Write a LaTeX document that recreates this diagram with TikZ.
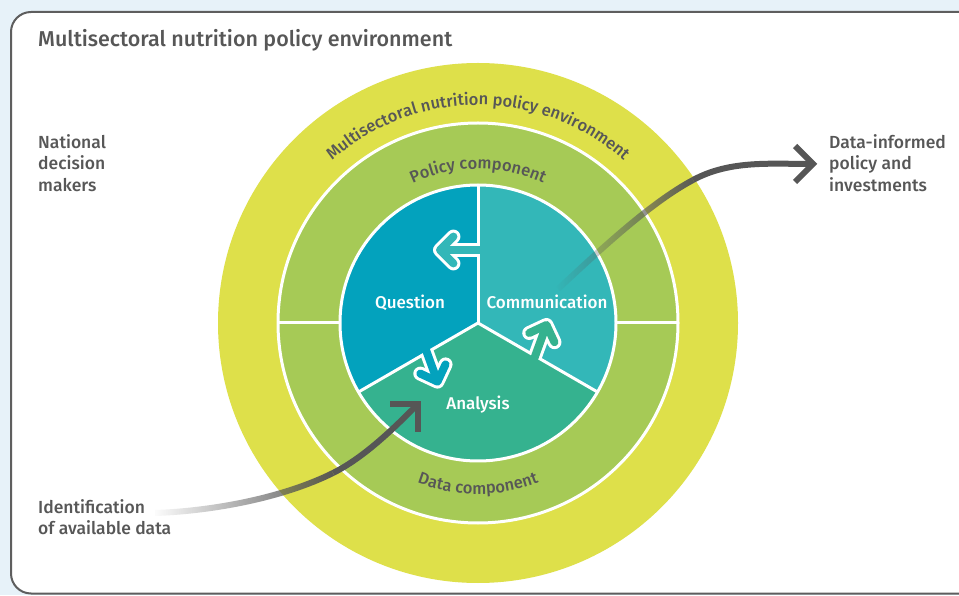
\documentclass[tikz,border=0pt]{standalone}
\usepackage{fontspec}
\setmainfont{Fira Sans}[UprightFont={* Medium}]
\usetikzlibrary{decorations.text,fadings}

\definecolor{bgblue}{HTML}{E7F2F9}
\definecolor{boxline}{HTML}{5E5E5E}
\definecolor{envyellow}{HTML}{DEE04A}
\definecolor{ringgreen}{HTML}{A6CA56}
\definecolor{qcol}{HTML}{03A2BD}
\definecolor{ccol}{HTML}{33B7B8}
\definecolor{acol}{HTML}{35B28F}
\definecolor{txt}{HTML}{575757}
\definecolor{flowgray}{HTML}{565656}

\newcommand\ringfont{\fontsize{16.5}{20}\selectfont\color{txt}}

% fades a stroke in from the left (transparent) to the right (opaque)
\tikzfading[name=fadein, left color=transparent!100, right color=transparent!0]

\begin{document}
\begin{tikzpicture}[x=1pt,y=1pt,
  lbl/.style={align=left, text=txt, inner sep=0, font=\fontsize{17.5}{21.5}\selectfont},
  pielbl/.style={text=white, inner sep=0, font=\fontsize{17}{20}\selectfont},
  sep/.style={white, line width=3},
  flowout/.style={white, line width=14},
  flowin/.style={line width=8},
  bigflow/.style={flowgray, line width=6},
  ringtext/.style={decorate, decoration={text along path, text align=center, text={#1}}}
]
\useasboundingbox (0,0) rectangle (959,595);
\fill[bgblue] (0,0) rectangle (959,595);

% framed panel
\begin{scope}
  \clip (0,0) rectangle (959,595);
  \draw[boxline, line width=2, fill=white, rounded corners=20] (11,1.5) rectangle (985,583);
\end{scope}
\node[anchor=base west, text=txt, inner sep=0, font=\fontsize{21.5}{26}\selectfont] (title) at (38,548)
  {Multisectoral nutrition policy environment};

% rings
\coordinate (c) at (478,272);
\fill[envyellow] (c) circle[radius=260];
\fill[ringgreen] (c) circle[radius=200];
\draw[sep] (c) circle[radius=200];
\draw[sep] ([shift={(180:138)}]c) -- ([shift={(180:200)}]c);
\draw[sep] ([shift={(0:138)}]c) -- ([shift={(0:200)}]c);

% three sectors of the cycle
\fill[qcol] (c) -- ++(90:138) arc[start angle=90, end angle=210, radius=138] -- cycle;
\fill[acol] (c) -- ++(210:138) arc[start angle=210, end angle=330, radius=138] -- cycle;
\fill[ccol] (c) -- ++(330:138) arc[start angle=330, end angle=450, radius=138] -- cycle;
\draw[sep] (c) -- ++(90:138);
\draw[sep] (c) -- ++(210:138);
\draw[sep] (c) -- ++(330:138);
\draw[sep] (c) circle[radius=138];

% curved ring labels
\path[ringtext={|\ringfont|Multisectoral nutrition policy environment}]
  ([shift={(170:218)}]c) arc[start angle=170, end angle=10, radius=218];
\path[ringtext={|\ringfont|Policy component}]
  ([shift={(160:154)}]c) arc[start angle=160, end angle=20, radius=154];
\path[ringtext={|\ringfont|Data component}]
  ([shift={(200:171)}]c) arc[start angle=200, end angle=340, radius=171];

% cycle arrows: Communication -> Question
\coordinate (qb) at (478,345);
\coordinate (qs) at (488,345);
\coordinate (qt) at (440,345);
\coordinate (qw1) at ([shift={(45:19)}]qt);
\coordinate (qw2) at ([shift={(-45:19)}]qt);
\draw[flowout, line cap=butt] (qb) -- (qt);
\draw[flowout, line cap=round, line join=round] (qw1) -- (qt) -- (qw2);
\draw[ccol, flowin, line cap=butt] (qs) -- (qt);
\draw[ccol, flowin, line cap=round, line join=round] (qw1) -- (qt) -- (qw2);

% Question -> Analysis
\coordinate (ab) at ([shift={(210:59)}]c);
\coordinate (as) at ([shift={(110:10)}]ab);
\coordinate (at) at ([shift={(-70:31)}]ab);
\coordinate (aw1) at ([shift={(65:19)}]at);
\coordinate (aw2) at ([shift={(155:19)}]at);
\draw[flowout, line cap=butt] (ab) -- (at);
\draw[flowout, line cap=round, line join=round] (aw1) -- (at) -- (aw2);
\draw[qcol, flowin, line cap=butt] (as) -- (at);
\draw[qcol, flowin, line cap=round, line join=round] (aw1) -- (at) -- (aw2);

% Analysis -> Communication
\coordinate (cb) at ([shift={(330:66)}]c);
\coordinate (cs) at ([shift={(250:10)}]cb);
\coordinate (ct) at ([shift={(70:33)}]cb);
\coordinate (cw1) at ([shift={(205:19)}]ct);
\coordinate (cw2) at ([shift={(295:19)}]ct);
\draw[flowout, line cap=butt] (cb) -- (ct);
\draw[flowout, line cap=round, line join=round] (cw1) -- (ct) -- (cw2);
\draw[acol, flowin, line cap=butt] (cs) -- (ct);
\draw[acol, flowin, line cap=round, line join=round] (cw1) -- (ct) -- (cw2);

% sector labels
\node[pielbl, anchor=base] (question) at (410,286) {Question};
\node[pielbl, anchor=base] (communication) at (547,286) {Communication};
\node[pielbl, anchor=base] (analysis) at (478,185) {Analysis};

% side labels
\node[lbl, anchor=north west] (makers) at (38,461) {National\\decision\\makers};
\node[lbl, anchor=north west] (informed) at (829,461) {Data-informed\\policy and\\investments};
\node[lbl, anchor=north west] (available) at (38,96) {Identification\\of available data};

% input flow: available data into the analysis
\coordinate (i0) at (155,82);
\coordinate (i1) at (333,122);
\coordinate (i2) at (417.5,190.5);
\coordinate (iw1) at (390,190.5);
\coordinate (iw2) at (417.5,163);
\draw[bigflow, line cap=butt, path fading=fadein] (i0) .. controls (215,84) and (285,98) .. (i1);
\draw[bigflow, line cap=butt] (i1) .. controls (365,138) and (395,168) .. (i2);
\draw[bigflow, line cap=butt, line join=miter] (iw1) -- (i2) -- (iw2);

% output flow: communication to data-informed policy
\coordinate (o0) at (558,306);
\coordinate (o1) at (693,415);
\coordinate (o2) at (813,431);
\coordinate (ow1) at (795,449);
\coordinate (ow2) at (795,413);
\draw[bigflow, line cap=butt, path fading=fadein] (o0) .. controls (600,345) and (650,392) .. (o1);
\draw[bigflow, line cap=butt] (o1) .. controls (730,435) and (770,431) .. (o2);
\draw[bigflow, line cap=butt, line join=miter] (ow1) -- (o2) -- (ow2);
\end{tikzpicture}
\end{document}
